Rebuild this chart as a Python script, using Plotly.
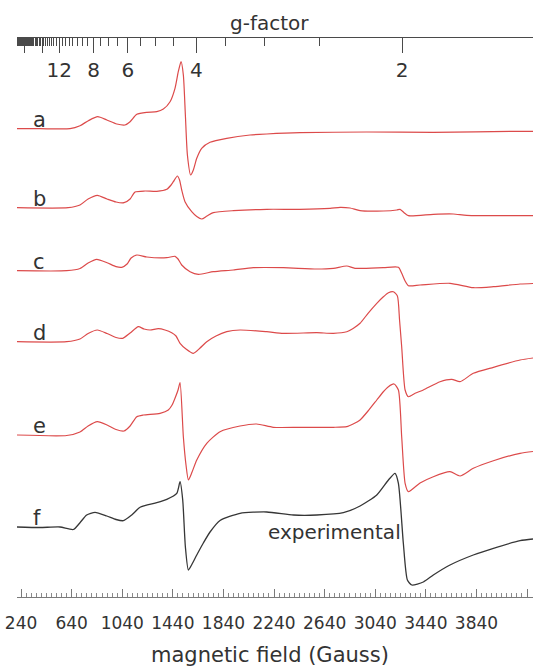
import numpy as np
import plotly.graph_objects as go

# ---------------- spectra: magnetic field (G) and derivative amplitude (a.u.) -------------
FIELD_A = [208, 390, 627, 706, 772, 846, 918, 997, 1062, 1102, 1155, 1234, 1313, 1365, 1418,
           1457, 1483, 1505, 1523, 1539, 1555, 1581, 1602, 1629, 1668, 1734, 1866, 2050, 2182,
           2445, 2973, 3497, 4185, 4287]
AMP_A = [0, 0, 0, 3.0, 8.0, 12.0, 8.7, 4.7, 3.7, 7.0, 14.4, 16.4, 17.0, 19.7, 27.0,
         40.4, 57.0, 67.0, 53.7, 13.7, -26.3, -46.3, -41.3, -29.6, -19.6, -13.6, -9.6, -6.3, -5.3,
         -4.0, -3.3, -3.6, -2.6, -2.6]

FIELD_B = [208, 612, 706, 770, 843, 920, 991, 1054, 1102, 1141, 1220, 1313, 1392, 1426, 1444,
           1476, 1493, 1510, 1536, 1589, 1629, 1668, 1710, 1760, 1918, 2182, 2445, 2683, 2762,
           2841, 2920, 3104, 3210, 3236, 3268, 3302, 3499, 3657, 3763, 4185, 4287]
AMP_B = [0, 0, 2.7, 8.7, 12.4, 8.7, 5.7, 5.0, 8.7, 15.7, 16.7, 16.4, 18.4, 22.7, 26.0,
         31.7, 27.7, 17.7, 6.0, -4.0, -8.8, -11.3, -8.3, -5.0, -3.0, -1.6, -1.6, -0.6, 0.4,
         -0.3, -3.0, -3.3, -2.3, -1.6, -5.0, -8.0, -6.6, -6.3, -7.6, -8.0, -8.0]

FIELD_C = [208, 601, 706, 770, 838, 920, 991, 1036, 1078, 1110, 1155, 1234, 1392, 1457, 1481,
           1510, 1576, 1642, 1760, 1918, 2076, 2314, 2578, 2709, 2815, 2880, 3104, 3223, 3249,
           3276, 3302, 3394, 3631, 3815, 3974, 4185, 4287]
AMP_C = [0, 0, 2.2, 7.7, 11.4, 8.0, 4.0, 3.4, 6.7, 12.7, 15.7, 13.7, 13.0, 14.4, 11.7,
         5.7, -1.0, -3.6, -1.0, 0.7, 3.0, 3.0, 1.7, 2.4, 4.7, 2.4, 3.0, 3.4, -2.6,
         -10.3, -15.0, -14.3, -12.6, -17.0, -16.0, -13.3, -12.8]

FIELD_D = [208, 601, 706, 770, 843, 920, 991, 1044, 1102, 1167, 1212, 1260, 1325, 1378, 1431,
           1465, 1497, 1544, 1602, 1655, 1708, 1781, 1866, 1971, 2182, 2314, 2578, 2709, 2815,
           2865, 2920, 2983, 3052, 3102, 3144, 3183, 3215, 3232, 3249, 3276, 3302, 3355, 3420,
           3552, 3645, 3710, 3815, 3974, 4185, 4287]
AMP_D = [0, 0, 2.7, 8.2, 11.7, 8.2, 4.2, 3.4, 8.7, 15.0, 12.7, 11.7, 13.0, 11.7, 9.0,
         5.7, -1.6, -7.3, -11.6, -6.3, 0, 5.7, 10.0, 11.7, 10.0, 8.4, 9.0, 8.4, 10.0,
         13.2, 18.4, 28.4, 38.4, 44.7, 49.0, 50.0, 45.7, 21.7, -5.0, -48.3, -55.0, -51.6, -48.3,
         -40.0, -37.6, -40.0, -31.6, -25.6, -18.3, -16.3]

FIELD_E = [208, 601, 706, 770, 843, 920, 991, 1054, 1102, 1155, 1207, 1339, 1404, 1434, 1457,
           1481, 1497, 1523, 1544, 1563, 1592, 1629, 1708, 1813, 1971, 2103, 2234, 2445, 2709,
           2815, 2865, 2920, 2983, 3052, 3102, 3144, 3189, 3223, 3249, 3276, 3302, 3394, 3499,
           3631, 3710, 3815, 3974, 4185, 4287]
AMP_E = [0, -0.5, 3.0, 9.0, 13.3, 10.0, 5.5, 4.0, 9.0, 18.3, 20.0, 21.7, 25.0, 30.0, 36.7,
         45.0, 52.3, -1.7, -30.0, -45.0, -37.0, -25.0, -8.3, 3.3, 9.0, 11.0, 7.7, 7.7, 7.7,
         8.3, 11.0, 15.0, 24.0, 35.0, 43.0, 48.3, 51.0, 45.0, -1.7, -48.3, -56.7, -48.0, -41.7,
         -36.7, -41.0, -33.3, -25.7, -18.3, -16.5]

# measured spectrum
FIELD_F = [208, 390, 548, 653, 706, 759, 825, 918, 991, 1049, 1115, 1181, 1313, 1392, 1471,
           1497, 1518, 1539, 1563, 1592, 1629, 1681, 1734, 1813, 1971, 2182, 2393, 2578, 2788,
           2920, 3052, 3144, 3196, 3223, 3262, 3294, 3329, 3420, 3499, 3631, 3815, 3974, 4185,
           4287]
AMP_F = [0, -0.5, 0, -2.5, 4.3, 12.0, 14.7, 11.0, 7.5, 6.3, 12.0, 19.7, 24.3, 27.7, 33.7,
         45.3, 27.0, -19.7, -43.0, -37.0, -28.0, -16.0, -5.0, 6.5, 13.7, 15.0, 12.0, 12.0, 14.3,
         21.0, 32.0, 47.0, 53.7, 43.7, -16.3, -53.0, -58.0, -55.0, -48.0, -38.0, -28.0, -21.3,
         -13.7, -12.0]

SPECTRA = [
    ("a", FIELD_A, AMP_A),
    ("b", FIELD_B, AMP_B),
    ("c", FIELD_C, AMP_C),
    ("d", FIELD_D, AMP_D),
    ("e", FIELD_E, AMP_E),
    ("f", FIELD_F, AMP_F),
]

# ---------------- axis ticks ----------------
FIELD_TICKS = [240, 640, 1040, 1440, 1840, 2240, 2640, 3040, 3440, 3840]
G_MAJOR = [2, 4, 6, 8, 12, 16, 24]
G_MAJOR_TEXT = ["2", "4", "6", "8", "12", "", ""]
FREQ_GHZ = 9.103          # microwave frequency used to relate g and field

# ---------------- layout constants ----------------
W, H = 533, 667
PLOT_BOTTOM_PX = 597       # bottom (field) axis line
G_AXIS_PX = 37             # g-factor axis line
X_LEFT_PX = 17
X_RANGE = [208, 4287]
STACK_OFFSET = {"a": 468.3, "b": 389.3, "c": 326.3, "d": 255.3, "e": 162.0, "f": 70.0}
RED = "#dc4a4a"
DARK = "#363636"
TEXT = "#333333"
FONT = "DejaVu Sans"


def g_to_field(g):
    return 714.477 * FREQ_GHZ / np.asarray(g, dtype=float)


fig = go.Figure()

for name, field, amp in SPECTRA:
    off = STACK_OFFSET[name]
    fig.add_trace(go.Scatter(
        x=field, y=[off + v for v in amp], mode="lines",
        line=dict(color=DARK if name == "f" else RED, width=1.3 if name == "f" else 1.2,
                  shape="spline", smoothing=0.6),
        showlegend=False, hoverinfo="skip",
    ))
    fig.add_annotation(x=320, y=off + 9, xref="x", yref="y", text=name, showarrow=False,
                       xanchor="left", yanchor="middle",
                       font=dict(family=FONT, size=21, color=TEXT))

fig.add_annotation(x=2720, y=STACK_OFFSET["f"] - 5, xref="x", yref="y", text="experimental",
                   showarrow=False, xanchor="center", yanchor="middle",
                   font=dict(family=FONT, size=20, color=TEXT))

# empty trace so the g-factor axis is rendered
fig.add_trace(go.Scatter(x=[], y=[], xaxis="x2", yaxis="y", showlegend=False, hoverinfo="skip"))

field_minor = [v for v in range(200, X_RANGE[1], 40) if (v - 240) % 400 != 0 and v > X_RANGE[0]]
g_minor = [g for g in np.arange(2.5, 32.5, 0.5) if g not in G_MAJOR]

x_dom = [X_LEFT_PX / W, 1.0]
fig.update_layout(
    template="none",
    width=W, height=H, autosize=False,
    margin=dict(l=0, r=0, t=0, b=0, pad=0),
    paper_bgcolor="white", plot_bgcolor="white",
    xaxis=dict(
        domain=x_dom, range=X_RANGE, anchor="y", automargin=False,
        showline=True, linecolor="#7a7a7a", linewidth=1,
        showgrid=False, zeroline=False,
        ticks="inside", ticklen=8, tickwidth=1, tickcolor="#7a7a7a",
        tickmode="array", tickvals=FIELD_TICKS + [4240],
        ticktext=[str(v) for v in FIELD_TICKS] + [""],
        tickfont=dict(family=FONT, size=17, color=TEXT), ticklabelstandoff=11,
        minor=dict(tickmode="array", tickvals=field_minor, ticks="inside", ticklen=4,
                   tickwidth=1, tickcolor="#8a8a8a", showgrid=False),
    ),
    xaxis2=dict(
        overlaying="x", anchor="free", position=(H - G_AXIS_PX) / H, side="bottom",
        range=X_RANGE, automargin=False, showline=True, linecolor="#4a4a4a", linewidth=1,
        showgrid=False, zeroline=False,
        ticks="outside", ticklen=15, tickwidth=1, tickcolor="#4a4a4a",
        tickmode="array", tickvals=list(g_to_field(G_MAJOR)), ticktext=G_MAJOR_TEXT,
        tickfont=dict(family=FONT, size=20, color=TEXT),
        minor=dict(tickmode="array", tickvals=list(g_to_field(g_minor)), ticks="outside",
                   ticklen=8, tickwidth=1, tickcolor="#4a4a4a", showgrid=False),
    ),
    yaxis=dict(domain=[(H - PLOT_BOTTOM_PX) / H, 1.0], range=[0, PLOT_BOTTOM_PX],
               visible=False, fixedrange=True, automargin=False),
    annotations=list(fig.layout.annotations) + [
        dict(x=269 / W, y=(H - 23) / H, xref="paper", yref="paper", text="g-factor",
             showarrow=False, xanchor="center", yanchor="middle",
             font=dict(family=FONT, size=20, color=TEXT)),
        dict(x=270 / W, y=(H - 655) / H, xref="paper", yref="paper",
             text="magnetic field (Gauss)", showarrow=False, xanchor="center", yanchor="middle",
             font=dict(family=FONT, size=21, color=TEXT)),
    ],
)

fig.write_html("out.html")
